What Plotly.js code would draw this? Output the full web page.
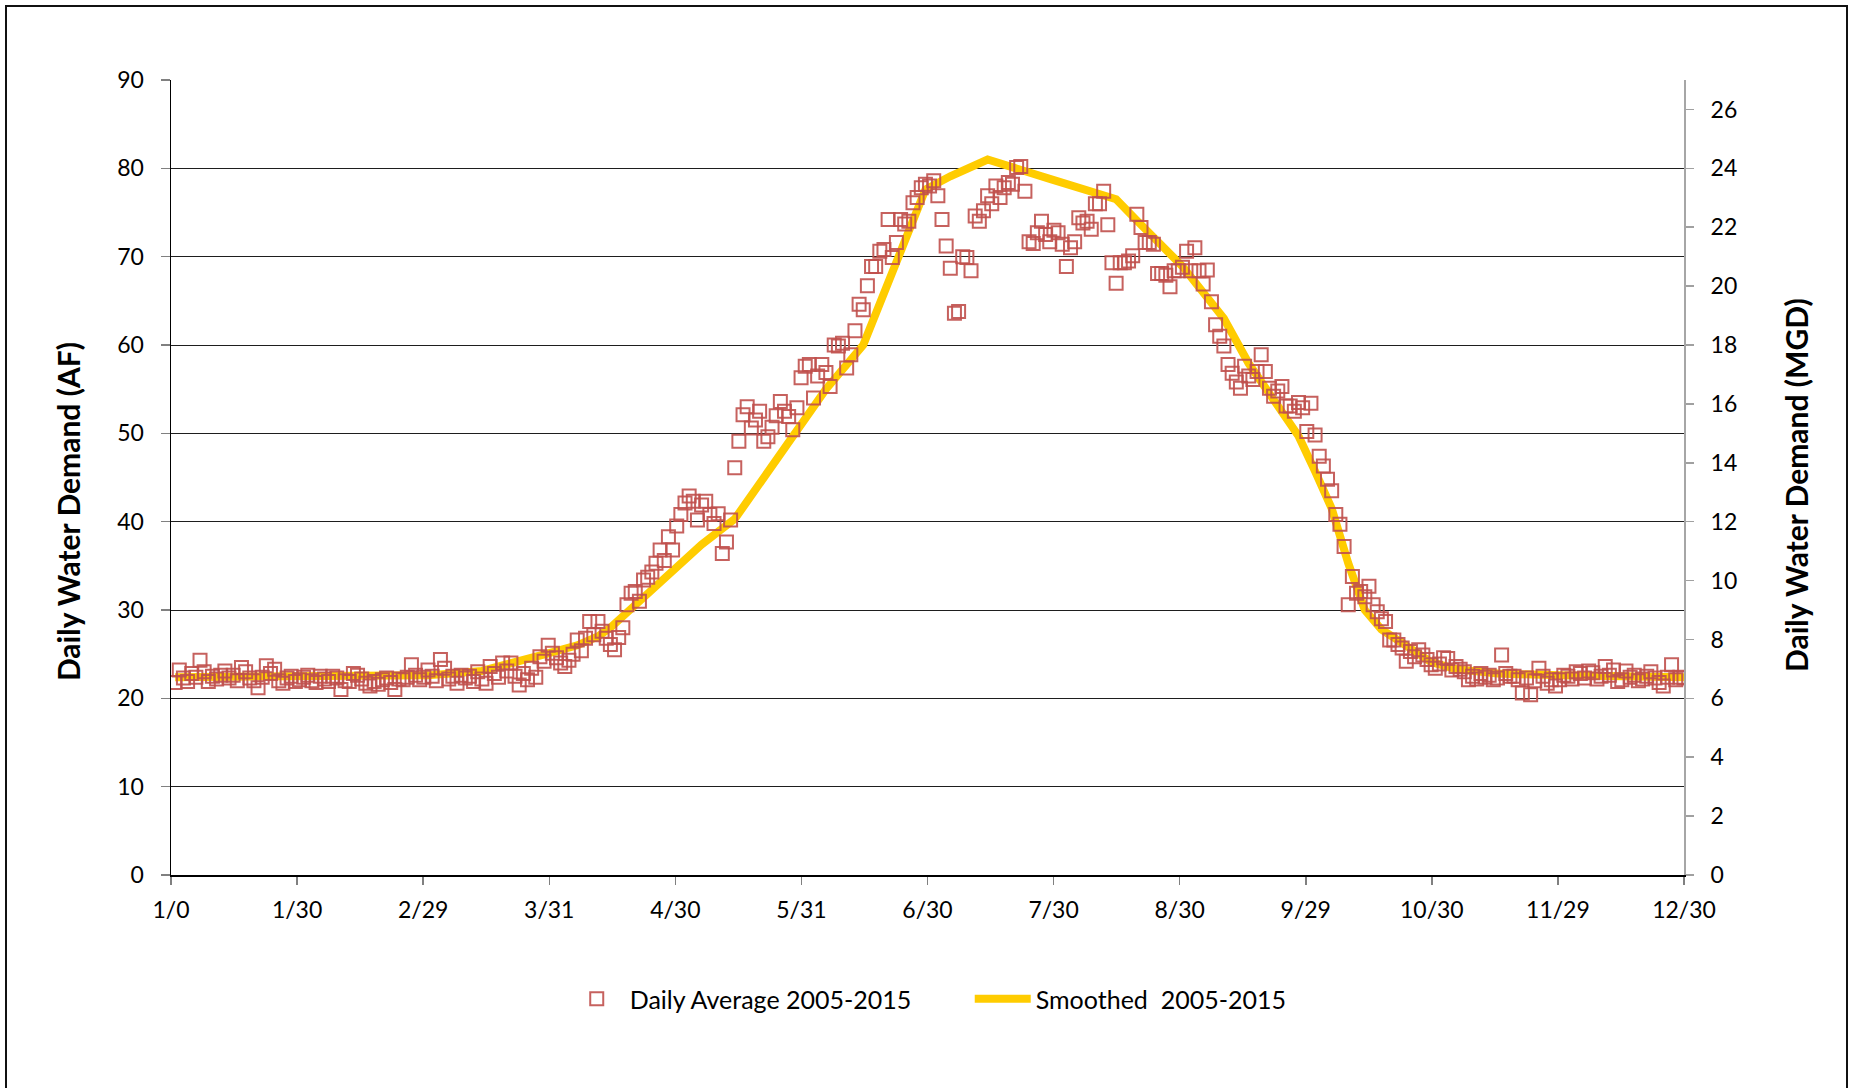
<!DOCTYPE html>
<html><head><meta charset="utf-8">
<script src="https://cdn.plot.ly/plotly-3.0.1.min.js"></script>
<style>
html,body{margin:0;padding:0;overflow:hidden;background:#fff}
#chart{width:1851px;height:1088px}
#frame{position:absolute;left:5px;top:5px;width:1843px;height:1200px;border:2.5px solid #111;box-sizing:border-box;pointer-events:none}
</style></head><body>
<div id="chart"></div><div id="frame"></div>
<script>
// Daily average demand (AF), day 1 .. 365
const dailyAF = [
21.8,23.2,22.3,21.9,22.8,22.4,24.3,23.0,21.9,22.5,
22.2,22.6,23.1,22.3,22.6,22.0,23.5,23.0,22.3,22.0,
21.2,22.4,23.7,22.8,23.3,22.0,21.7,22.3,22.5,21.9,
22.1,22.4,22.6,22.0,21.8,22.5,22.2,21.9,22.5,22.3,
21.0,22.0,21.9,22.8,22.6,22.2,21.7,21.4,21.9,21.6,
22.1,22.3,21.8,21.0,22.2,22.1,22.4,23.8,22.6,22.1,
22.4,23.2,22.5,22.0,24.4,23.4,22.2,22.5,21.7,22.6,
22.3,22.5,21.9,23.0,22.2,21.7,23.6,22.8,22.4,24.0,
23.1,24.0,22.5,21.5,22.8,22.1,23.4,22.4,24.7,24.2,
26.0,25.1,24.6,24.0,23.6,24.3,25.0,26.6,25.4,26.8,
28.7,27.2,28.7,27.6,26.8,26.1,25.5,26.9,28.0,30.6,
31.9,32.1,31.0,33.4,33.7,34.3,35.3,36.8,35.6,38.3,
36.8,39.5,40.8,42.1,42.9,42.3,40.2,41.9,42.3,40.8,
39.8,40.9,36.4,37.7,40.2,46.1,49.1,52.1,53.0,50.6,
51.5,52.5,49.1,49.6,50.7,52.0,53.6,52.5,51.9,50.4,
52.9,56.3,57.6,57.8,54.0,56.5,57.8,56.9,55.3,60.0,
59.9,60.2,57.4,58.9,61.6,64.6,64.0,66.7,68.9,68.9,
70.6,70.8,74.2,69.9,71.6,74.2,73.7,74.0,76.1,76.7,
77.8,78.2,78.0,78.6,76.9,74.2,71.2,68.7,63.6,63.8,
70.0,69.9,68.4,74.6,74.0,75.2,76.9,76.0,78.0,76.7,
77.8,78.4,78.2,80.1,80.2,77.4,71.7,71.5,72.7,74.0,
72.5,71.7,73.0,72.7,71.4,68.9,71.0,71.7,74.4,73.8,
74.0,73.1,76.0,76.0,77.4,73.6,69.3,67.0,69.3,69.3,
69.5,70.1,74.8,73.3,71.6,71.6,71.4,68.1,68.1,67.9,
66.6,68.4,68.4,68.8,70.6,68.4,71.0,68.4,66.9,68.5,
64.9,62.3,61.0,59.9,57.8,56.8,55.8,55.1,57.6,56.5,
56.1,57.0,58.9,57.0,55.1,54.2,54.8,55.3,53.1,53.1,
52.5,53.5,52.9,50.2,53.4,49.8,47.4,46.3,44.8,43.5,
40.8,39.7,37.2,30.6,33.8,31.9,32.1,31.5,32.7,30.6,
29.8,29.0,28.7,26.6,26.6,26.1,25.7,24.2,25.3,24.7,
25.5,24.9,24.4,23.8,23.4,23.9,24.6,24.5,23.2,23.6,
23.3,23.0,22.1,22.5,22.2,22.8,22.4,22.6,22.1,22.3,
24.9,22.8,22.5,22.5,22.1,20.6,22.3,20.4,22.0,23.4,
22.5,21.7,22.1,21.4,22.1,22.6,22.5,22.2,23.0,22.8,
22.3,23.1,22.9,22.2,22.5,23.6,22.6,23.2,21.9,22.1,
23.1,22.4,22.6,22.0,22.2,22.5,23.0,22.3,21.8,21.4,
22.4,23.8,22.1,22.4,22.3
];

// Smoothed curve read at these days
const smoothDays = [1,15,46,62,75,86,91,98,103,106,111,119,128,136,143,150,158,167,172,176,182,188,197,212,228,233,244,254,260,266,272,276,280,284,288,292,296,300,304,310,320,335,350,365];
const smoothAF   = [22.4,22.4,22.4,22.6,23.1,24.6,25.1,26.0,27.0,28.0,30.1,33.7,37.4,40.3,45.0,50.0,55.0,60.0,66.0,70.8,77.6,79.1,81.0,78.8,76.5,74.1,68.9,63.0,57.9,53.8,49.7,45.7,41.5,35.3,30.0,27.8,26.5,25.2,24.1,23.3,22.8,22.6,22.5,22.4];

const tickLabels = ['1/0','1/30','2/29','3/31','4/30','5/31','6/30','7/30','8/30','9/29','10/30','11/29','12/30'];
const seriesNames = ['Daily Average 2005-2015','Smoothed  2005-2015'];
const leftTitle = 'Daily Water Demand (AF)';
const rightTitle = 'Daily Water Demand (MGD)';

const days = dailyAF.map((v, i) => i + 1);
const tickVals = tickLabels.map((t, i) => i * 365 / 12);

const FONT = 'Lato, "Open Sans", sans-serif';
const RED = 'rgba(192,80,77,0.9)';

const traces = [
  {
    x: smoothDays, y: smoothAF, type: 'scatter', mode: 'lines',
    name: seriesNames[1], legendrank: 2,
    line: {color: '#FFCC00', width: 8},
    hoverinfo: 'skip'
  },
  {
    x: days, y: dailyAF, type: 'scatter', mode: 'markers',
    name: seriesNames[0], legendrank: 1,
    marker: {symbol: 'square-open', size: 13, color: RED, line: {width: 2, color: RED}}
  },
  // carries the secondary (MGD) axis so that it is drawn
  {x: [], y: [], type: 'scatter', mode: 'markers', yaxis: 'y2', showlegend: false, hoverinfo: 'skip'}
];

const layout = {
  width: 1851, height: 1088,
  margin: {l: 171, r: 167, t: 80, b: 213, pad: 0},
  paper_bgcolor: '#fff', plot_bgcolor: '#fff',
  font: {family: FONT, size: 23, color: '#000'},
  showlegend: true,
  legend: {
    orientation: 'h', x: (564 - 171) / 1514, xanchor: 'left',
    y: -0.156, yanchor: 'middle',
    itemwidth: 56,
    entrywidth: 335, entrywidthmode: 'pixels',
    font: {family: FONT, size: 25, color: '#000'},
    bgcolor: 'rgba(0,0,0,0)'
  },
  xaxis: {
    range: [0, 365], tickmode: 'array', tickvals: tickVals, ticktext: tickLabels,
    ticks: 'outside', ticklen: 8, tickcolor: '#808080', tickwidth: 1.5,
    showline: true, linecolor: '#000', linewidth: 1.5,
    showgrid: false, zeroline: false,
    ticklabelstandoff: 6,
    tickfont: {family: FONT, size: 23, color: '#000'}
  },
  yaxis: {
    range: [0, 90], tick0: 0, dtick: 10,
    ticks: 'outside', ticklen: 9, tickcolor: '#808080', tickwidth: 1.5,
    showline: true, linecolor: '#000', linewidth: 1.5,
    showgrid: true, gridcolor: '#1e1e1e', gridwidth: 1,
    zeroline: false,
    ticklabelstandoff: 12,
    tickfont: {family: FONT, size: 23, color: '#000'}
  },
  yaxis2: {
    overlaying: 'y', side: 'right', anchor: 'x',
    range: [0, 27], tick0: 0, dtick: 2,
    ticks: 'outside', ticklen: 8, tickcolor: '#a0a0a0', tickwidth: 1.5,
    showline: true, linecolor: '#a6a6a6', linewidth: 2,
    showgrid: false, zeroline: false,
    ticklabelstandoff: 12,
    tickfont: {family: FONT, size: 23, color: '#000'}
  },
  annotations: [
    {text: leftTitle, xref: 'paper', yref: 'paper', x: (68 - 171) / 1514, y: (875 - 512) / 795,
     xanchor: 'center', yanchor: 'middle', textangle: -90, showarrow: false,
     font: {family: FONT, size: 30, color: '#000', weight: 700}},
    {text: rightTitle, xref: 'paper', yref: 'paper', x: (1797 - 171) / 1514, y: (875 - 485) / 795,
     xanchor: 'center', yanchor: 'middle', textangle: -90, showarrow: false,
     font: {family: FONT, size: 30, color: '#000', weight: 700}}
  ]
};

Plotly.newPlot('chart', traces, layout, {staticPlot: true, displayModeBar: false});
</script>
</body></html>
